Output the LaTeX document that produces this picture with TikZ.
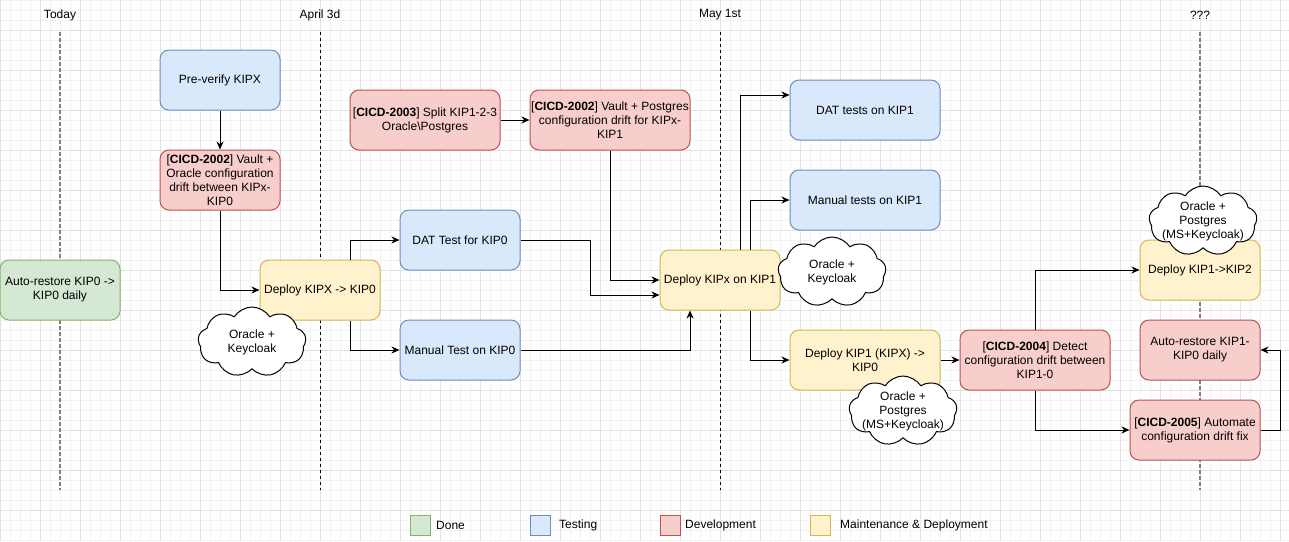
\documentclass[tikz,border=0pt]{standalone}
\usepackage{fontspec}
\setmainfont{Liberation Sans}
\usetikzlibrary{shapes.symbols,arrows.meta,calc}
\definecolor{gfill}{HTML}{D5E8D4}\definecolor{gline}{HTML}{82B366}
\definecolor{bfill}{HTML}{DAE8FC}\definecolor{bline}{HTML}{6C8EBF}
\definecolor{rfill}{HTML}{F8CECC}\definecolor{rline}{HTML}{B85450}
\definecolor{yfill}{HTML}{FFF2CC}\definecolor{yline}{HTML}{D6B656}
\definecolor{gridminor}{HTML}{F2F2F2}\definecolor{gridmajor}{HTML}{E2E2E2}
\definecolor{tlgray}{HTML}{808080}
\begin{document}
\begin{tikzpicture}[x=1pt,y=-1pt,
  txt/.style={font=\fontsize{12}{14}\selectfont, align=center},
  box/.style={txt, draw, line width=1pt, rounded corners=9pt, inner sep=1pt, minimum height=60pt, minimum width=#1},
  box/.default=120pt,
  green/.style={box=#1, fill=gfill, draw=gline}, green/.default=120pt,
  blue/.style={box=#1, fill=bfill, draw=bline}, blue/.default=120pt,
  red/.style={box=#1, fill=rfill, draw=rline}, red/.default=120pt,
  yellow/.style={box=#1, fill=yfill, draw=yline}, yellow/.default=120pt,
  arr/.style={draw, line width=1pt, -{Stealth[length=8pt,width=7pt,inset=2.5pt]}},
  cloudbox/.style={cloud, cloud puffs=9, cloud puff arc=115, cloud ignores aspect, draw, line width=1pt, fill=white, minimum width=108pt, minimum height=70pt, inner sep=0pt},
  cloudtxt/.style={label={[txt]center:#1}},
  tlgrey/.style={draw=tlgray, line width=2pt, dash pattern=on 4pt off 2pt},
  tlblack/.style={draw=black, line width=1pt, dash pattern=on 3pt off 3pt},
  legsq/.style={draw, line width=1pt, minimum width=20pt, minimum height=20pt, inner sep=0pt},
  legtxt/.style={txt, anchor=west, inner sep=0pt}
]
\useasboundingbox (0,0) rectangle (1289,541);
\fill[white] (0,0) rectangle (1289,541);
% grid
\foreach \x in {0,10,...,1280} \draw[gridminor, line width=1pt] (\x,0) -- (\x,541);
\foreach \y in {0,10,...,540} \draw[gridminor, line width=1pt] (0,\y) -- (1289,\y);
\foreach \x in {0,40,...,1280} \draw[gridmajor, line width=1pt] (\x,0) -- (\x,541);
\foreach \y in {30,70,...,510} \draw[gridmajor, line width=1pt] (0,\y) -- (1289,\y);

% timeline
\node[txt] (today) at (60,15) {Today};
\node[txt] (april) at (320,15) {April 3d};
\node[txt] (may) at (720,15) {May 1st};
\node[txt] (unk) at (1200,15) {???};
\draw[tlgrey] (60,32) -- (60,490);
\draw[tlblack] (320,32) -- (320,490);
\draw[tlblack] (720,32) -- (720,490);
\draw[tlgrey] (1200,32) -- (1200,490);

% nodes
\node[green] (auto0) at (60,290) {Auto-restore KIP0 ->\\KIP0 daily};
\node[blue] (pre) at (220,80) {Pre-verify KIPX};
\node[red] (c2002a) at (220,180) {[\textbf{CICD-2002}] Vault +\\Oracle configuration\\drift between KIPx-\\KIP0};
\node[yellow] (dep0) at (320,290) {Deploy KIPX -> KIP0};
\node[blue] (dat0) at (460,240) {DAT Test for KIP0};
\node[blue] (man0) at (460,350) {Manual Test on KIP0};
\node[red=150pt] (c2003) at (425,120) {[\textbf{CICD-2003}] Split KIP1-2-3\\Oracle\textbackslash Postgres};
\node[red=160pt] (c2002b) at (610,120) {[\textbf{CICD-2002}] Vault + Postgres\\configuration drift for KIPx-\\KIP1};
\node[yellow] (dep1) at (720,280) {Deploy KIPx on KIP1};
\node[blue=150pt] (dat1) at (865,110) {DAT tests on KIP1};
\node[blue=150pt] (man1) at (865,200) {Manual tests on KIP1};
\node[yellow=150pt] (dep10) at (865,360) {Deploy KIP1 (KIPX) ->\\KIP0};
\node[red=150pt] (c2004) at (1035,360) {[\textbf{CICD-2004}] Detect\\configuration drift between\\KIP1-0};
\node[yellow] (dep12) at (1200,270) {Deploy KIP1->KIP2};
\node[red] (auto1) at (1200,350) {Auto-restore KIP1-\\KIP0 daily};
\node[red=130pt] (c2005) at (1195,430) {[\textbf{CICD-2005}] Automate\\configuration drift fix};

% connectors
\draw[arr] (pre) -- (c2002a);
\draw[arr] (c2002a.south) |- (dep0.west);
\draw[arr] ($(dep0.north)+(30,0)$) |- (dat0.west);
\draw[arr] ($(dep0.south)+(30,0)$) |- (man0.west);
\draw[arr] (c2003) -- (c2002b);
\draw[arr] (c2002b.south) |- (dep1.west);
\draw[arr] (dat0.east) -- ($(dat0.east)+(70,0)$) |- ($(dep1.west)+(0,15)$);
\draw[arr] (man0.east) -| ($(dep1.south)+(-30,0)$);
\draw[arr] ($(dep1.north)+(20,0)$) |- ($(dat1.west)+(0,-15)$);
\draw[arr] ($(dep1.north)+(30,0)$) |- (man1.west);
\draw[arr] ($(dep1.south)+(30,0)$) |- (dep10.west);
\draw[arr] (dep10) -- (c2004);
\draw[arr] (c2004.north) |- (dep12.west);
\draw[arr] (c2004.south) |- (c2005.west);
\draw[arr] (c2005.east) -- ($(c2005.east)+(20,0)$) |- (auto1.east);

% clouds
\node[cloudbox, cloudtxt={Oracle +\\Keycloak}] (cl1) at (252,342) {};
\node[cloudbox, cloudtxt={Oracle +\\Keycloak}] (cl2) at (832,272) {};
\node[cloudbox, cloudtxt={Oracle +\\Postgres\\(MS+Keycloak)}] (cl3) at (903,411) {};
\node[cloudbox, cloudtxt={Oracle +\\Postgres\\(MS+Keycloak)}] (cl4) at (1203,221) {};

% legend
\node[legsq, fill=gfill, draw=gline] (lg1) at (420,525) {};
\node[legtxt] (lt1) at (436,525) {Done};
\node[legsq, fill=bfill, draw=bline] (lg2) at (540,525) {};
\node[legtxt] (lt2) at (559,525) {Testing};
\node[legsq, fill=rfill, draw=rline] (lg3) at (670,525) {};
\node[legtxt] (lt3) at (685,525) {Development};
\node[legsq, fill=yfill, draw=yline] (lg4) at (820,525) {};
\node[legtxt] (lt4) at (840,525) {Maintenance \& Deployment};
\end{tikzpicture}
\end{document}
